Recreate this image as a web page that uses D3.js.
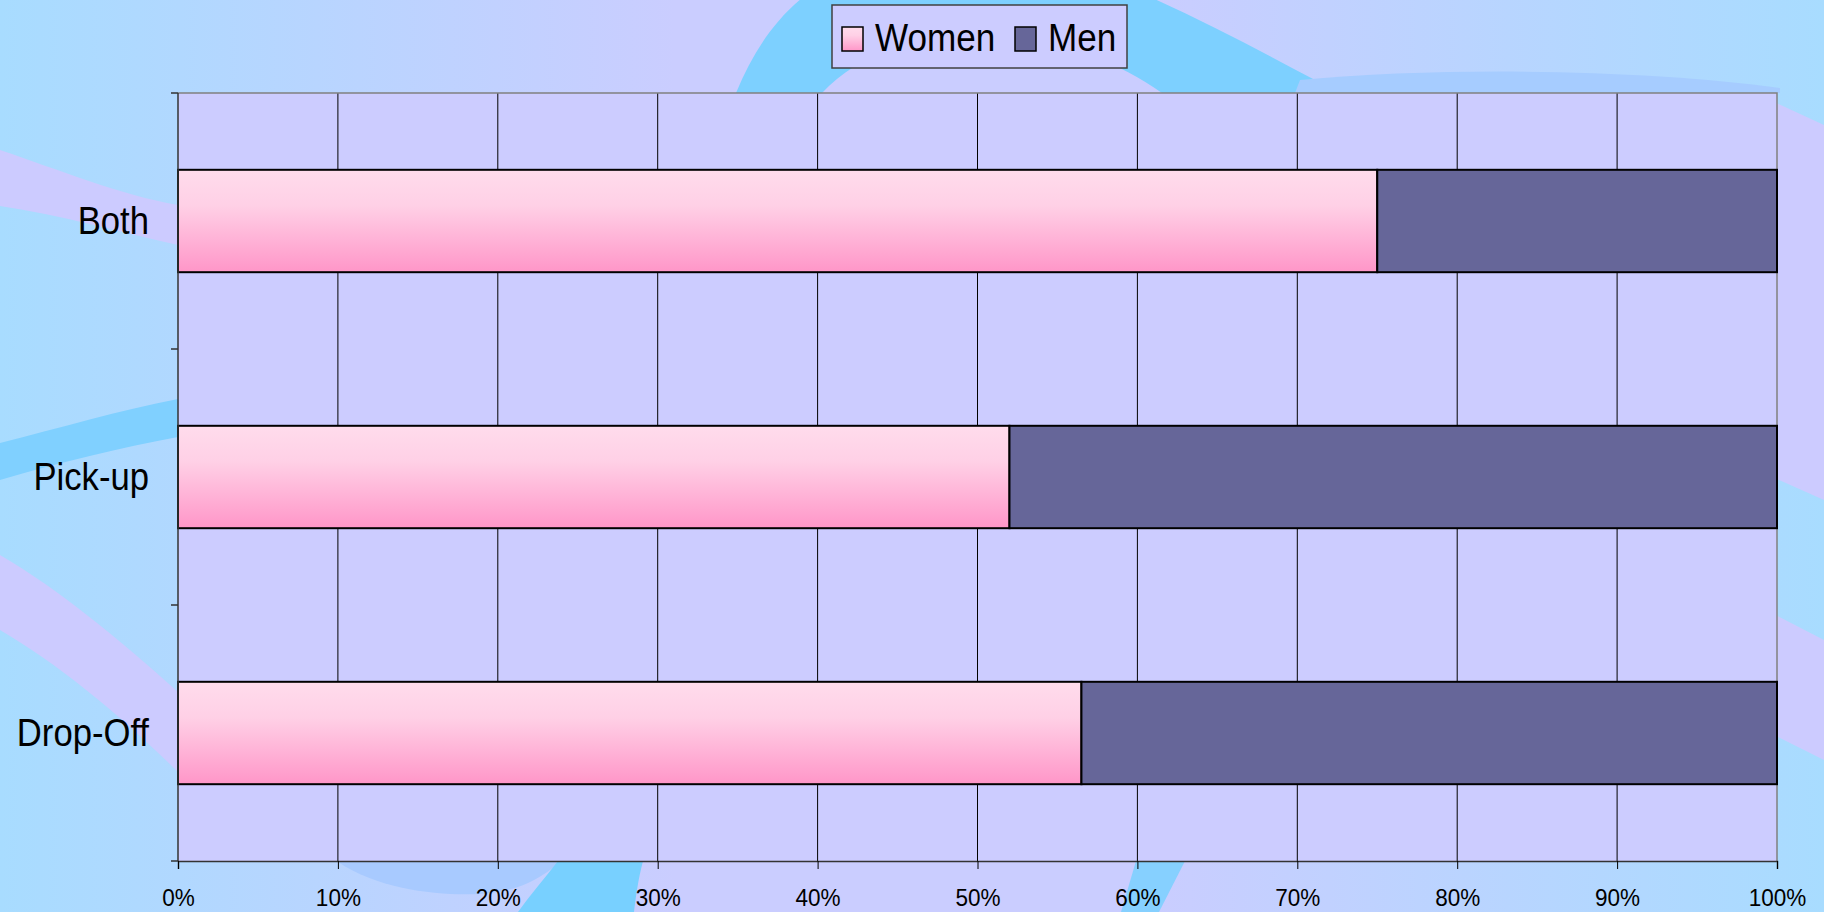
<!DOCTYPE html>
<html>
<head>
<meta charset="utf-8">
<script src="https://cdn.jsdelivr.net/npm/d3@7/dist/d3.min.js"></script>
<style>
  body { margin: 0; overflow: hidden; background: #a8dcff; }
  text { font-family: "Liberation Sans", Arial, sans-serif; fill: #000; }
</style>
</head>
<body>
<script>
var categories = ["Both", "Pick-up", "Drop-Off"];
var women = [75, 52, 56.5];
var men = [25, 48, 43.5];
var seriesNames = ["Women", "Men"];
var xTicks = [0, 0.1, 0.2, 0.3, 0.4, 0.5, 0.6, 0.7, 0.8, 0.9, 1];

var width = 1824, height = 912;
var margin = {top: 93, right: 47, bottom: 51, left: 178};
var squeeze = 0.9;

var rows = categories.map(function(c, i) {
    return {cat: c, Women: women[i], Men: men[i]};
});

var svg = d3.select("body")
    .append("svg")
    .attr("width", width)
    .attr("height", height);

var defs = svg.append("defs");

var bg = defs.append("linearGradient")
    .attr("id", "bg")
    .attr("x1", "0").attr("x2", "1").attr("y1", "0").attr("y2", "0");
bg.append("stop").attr("offset", "0").attr("stop-color", "#a8dcff");
bg.append("stop").attr("offset", "0.37").attr("stop-color", "#cacdff");
bg.append("stop").attr("offset", "0.63").attr("stop-color", "#cacdff");
bg.append("stop").attr("offset", "1").attr("stop-color", "#a8dcff");

var pink = defs.append("linearGradient")
    .attr("id", "pink")
    .attr("x1", "0").attr("x2", "0").attr("y1", "0").attr("y2", "1");
pink.append("stop").attr("offset", "0").attr("stop-color", "#ffdcec");
pink.append("stop").attr("offset", "0.35").attr("stop-color", "#ffd0e6");
pink.append("stop").attr("offset", "1").attr("stop-color", "#ff96c8");

// background swooshes
svg.append("rect")
    .attr("width", width)
    .attr("height", height)
    .attr("fill", "url(#bg)");

var swooshes = [
    {d: "M0,150 C60,170 120,195 178,205 L178,245 C120,232 60,215 0,206 Z", c: "#cccbff"},
    {d: "M0,443 C60,428 120,410 178,399 L178,437 C120,448 60,462 0,480 Z", c: "#80d0ff"},
    {d: "M0,555 C60,590 120,640 178,692 L178,772 C120,715 60,665 0,630 Z", c: "#cccbff"},
    {d: "M736,93 C770,10 830,-50 960,-50 C1080,-50 1200,20 1315,80 L1295,93 L1162,93 C1060,20 900,10 822,93 Z", c: "#7dd0ff"},
    {d: "M1300,80 C1450,66 1650,70 1780,88 L1780,93 L1295,93 Z", c: "#a6ccff"},
    {d: "M1770,100 L1824,125 L1824,500 L1770,476 Z", c: "#cccbff"},
    {d: "M1770,612 L1824,640 L1824,760 L1770,733 Z", c: "#cccbff"},
    {d: "M338,862 C380,890 440,896 480,894 C510,892 535,884 560,862 Z", c: "#a8caff"},
    {d: "M558,861 L643,861 C638,880 636,896 634,912 L518,912 C530,895 545,878 558,861 Z", c: "#78d0ff"},
    {d: "M1136,861 L1185,861 L1159,912 L1121,912 Z", c: "#86d0ff"}
];

svg.selectAll(".swoosh")
    .data(swooshes)
    .enter()
    .append("path")
    .attr("class", "swoosh")
    .attr("d", function(d) { return d.d; })
    .attr("fill", function(d) { return d.c; });

var x = d3.scaleLinear()
    .domain([0, 1])
    .range([margin.left, width - margin.right]);

var y = d3.scaleBand()
    .domain(categories)
    .range([margin.top, height - margin.bottom])
    .paddingInner(0.6)
    .paddingOuter(0.3);

var stack = d3.stack()
    .keys(seriesNames)
    .offset(d3.stackOffsetExpand);
var series = stack(rows);

var color = {Women: "url(#pink)", Men: "#666699"};

// plot area
svg.append("rect")
    .attr("x", x(0))
    .attr("y", margin.top)
    .attr("width", x(1) - x(0))
    .attr("height", height - margin.bottom - margin.top)
    .attr("fill", "#ccccff");

svg.selectAll(".grid")
    .data(xTicks.slice(1, -1))
    .enter()
    .append("line")
    .attr("class", "grid")
    .attr("x1", function(d) { return x(d); })
    .attr("x2", function(d) { return x(d); })
    .attr("y1", margin.top)
    .attr("y2", height - margin.bottom)
    .attr("stroke", "#000")
    .attr("stroke-width", 1);

svg.append("path")
    .attr("d", "M" + x(0) + "," + margin.top + "H" + x(1) + "V" + (height - margin.bottom))
    .attr("fill", "none")
    .attr("stroke", "#808080")
    .attr("stroke-width", 1.5);

// bars
svg.selectAll(".series")
    .data(series)
    .enter()
    .append("g")
    .attr("class", "series")
    .attr("fill", function(d) { return color[d.key]; })
    .selectAll("rect")
    .data(function(d) { return d; })
    .enter()
    .append("rect")
    .attr("x", function(d) { return x(d[0]); })
    .attr("y", function(d) { return y(d.data.cat); })
    .attr("width", function(d) { return x(d[1]) - x(d[0]); })
    .attr("height", y.bandwidth())
    .attr("stroke", "#000")
    .attr("stroke-width", 2);

// axes
var xAxis = d3.axisBottom(x)
    .tickValues(xTicks)
    .tickSize(8)
    .tickFormat(d3.format(".0%"));

var gx = svg.append("g")
    .attr("transform", "translate(0," + (height - margin.bottom) + ")")
    .call(xAxis);
gx.select(".domain").attr("stroke", "#333").attr("stroke-width", 1.5);
gx.selectAll(".tick line").attr("stroke", "#000");
gx.selectAll(".tick text")
    .attr("y", 0)
    .attr("dy", 0)
    .attr("transform", "translate(0,45) scale(0.92,1)")
    .style("font-size", "24.5px")
    .style("font-family", "'Liberation Sans', Arial, sans-serif")
    .attr("fill", "#000");

var bounds = categories.map(function(c) { return y(c) - y.step() * 0.3; });
bounds.push(height - margin.bottom);

svg.append("line")
    .attr("x1", x(0)).attr("x2", x(0))
    .attr("y1", margin.top).attr("y2", height - margin.bottom)
    .attr("stroke", "#333")
    .attr("stroke-width", 1.5);

svg.selectAll(".ytick")
    .data(bounds)
    .enter()
    .append("line")
    .attr("class", "ytick")
    .attr("x1", x(0) - 7).attr("x2", x(0))
    .attr("y1", function(d) { return d; })
    .attr("y2", function(d) { return d; })
    .attr("stroke", "#333")
    .attr("stroke-width", 1.5);

svg.selectAll(".ylabel")
    .data(categories)
    .enter()
    .append("text")
    .attr("class", "ylabel")
    .attr("transform", function(d) {
        return "translate(149," + (y(d) + y.bandwidth() / 2 + 13) + ") scale(" + squeeze + ",1)";
    })
    .style("text-anchor", "end")
    .style("font-size", "38.5px")
    .text(function(d) { return d; });

// legend
var legend = svg.append("g");
legend.append("rect")
    .attr("x", 832)
    .attr("y", 5)
    .attr("width", 295)
    .attr("height", 63)
    .attr("fill", "#ccccff")
    .attr("stroke", "#404040")
    .attr("stroke-width", 1.5);

var item = legend.selectAll(".item")
    .data(seriesNames)
    .enter()
    .append("g")
    .attr("class", "item")
    .attr("transform", function(d, i) { return "translate(" + (842 + i * 173) + ",0)"; });

item.append("rect")
    .attr("x", 0)
    .attr("y", 27)
    .attr("width", 21)
    .attr("height", 24)
    .attr("fill", function(d) { return color[d]; })
    .attr("stroke", "#000")
    .attr("stroke-width", 1.5);

item.append("text")
    .attr("transform", "translate(33,51) scale(" + squeeze + ",1)")
    .style("font-size", "39px")
    .text(function(d) { return d; });
</script>
</body>
</html>
